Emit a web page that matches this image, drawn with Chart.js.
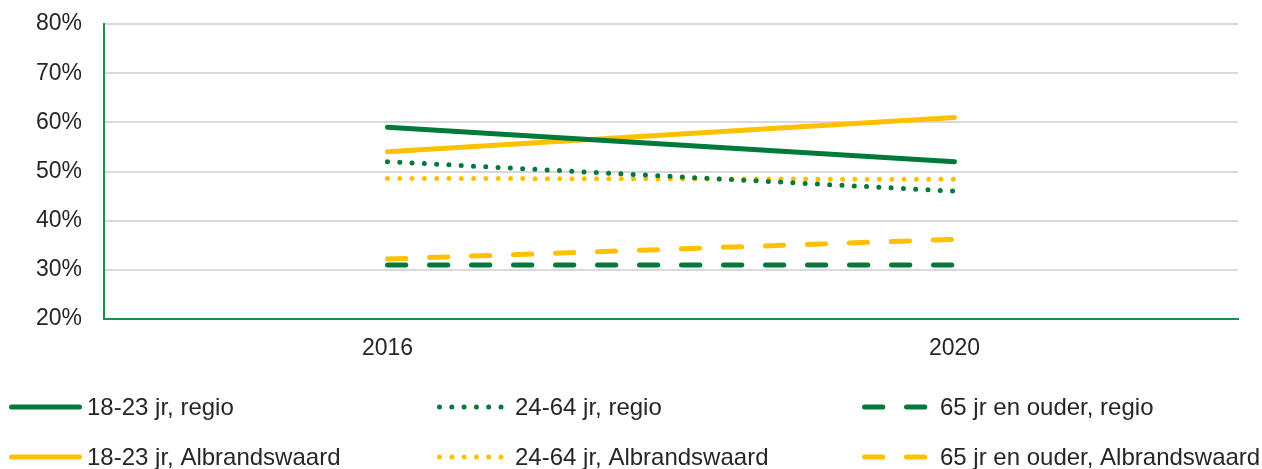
<!DOCTYPE html>
<html>
<head>
<meta charset="utf-8">
<script src="https://cdn.jsdelivr.net/npm/chart.js@4/dist/chart.umd.min.js"></script>
<style>
  html, body { margin: 0; padding: 0; background: #fff; }
  canvas { display: block; }
</style>
</head>
<body>
<canvas id="chart" width="1262" height="469"></canvas>
<script>
// data
const years = ['2016', '2020'];
const seriesNames = [
  '18-23 jr, regio',
  '18-23 jr, Albrandswaard',
  '24-64 jr, regio',
  '24-64 jr, Albrandswaard',
  '65 jr en ouder, regio',
  '65 jr en ouder, Albrandswaard'
];
const young_regio = [59, 52];
const young_albr = [54, 61];
const mid_regio = [52, 46];
const mid_albr = [48.6, 48.4];
const old_regio = [31, 31];
const old_albr = [32.2, 36.2];
const yTicks = [20, 30, 40, 50, 60, 70, 80];

const GREEN = '#00793A';
const YELLOW = '#FFC000';
const AXIS = '#1E8F45';
const TEXT = '#262626';
const FONT = '"Liberation Sans", Arial, sans-serif';

const SOLID = [];
const DOTS = [0, 12.3];
const DASH = [18.3, 23.7];

function line(label, data, color, dash){
  return {
    label: label, data: data,
    borderColor: color, backgroundColor: color,
    borderWidth: 5, borderDash: dash,
    borderCapStyle: 'round', borderJoinStyle: 'round',
    pointRadius: 0, pointHoverRadius: 0,
    tension: 0, fill: false
  };
}

// legend laid out in 3 columns x 2 rows under the plot
const legendGrid = {
  id: 'legendGrid',
  afterDraw(chart){
    const ctx = chart.ctx;
    const colX = [9, 437, 862];
    const rowY = [407, 457];
    chart.data.datasets.forEach((ds, i) => {
      const x = colX[Math.floor(i / 2)];
      const y = rowY[i % 2];
      ctx.save();
      ctx.strokeStyle = ds.borderColor;
      ctx.lineWidth = ds.borderWidth;
      ctx.lineCap = 'round';
      ctx.setLineDash(ds.borderDash || []);
      ctx.beginPath();
      ctx.moveTo(x + 2.5, y);
      ctx.lineTo(x + 70.5, y);
      ctx.stroke();
      ctx.setLineDash([]);
      ctx.fillStyle = TEXT;
      ctx.font = '24px ' + FONT;
      ctx.textBaseline = 'middle';
      ctx.textAlign = 'left';
      ctx.fillText(ds.label, x + 78, y + 1);
      ctx.restore();
    });
  }
};

new Chart(document.getElementById('chart'), {
  type: 'line',
  data: {
    labels: years,
    datasets: [
      line(seriesNames[0], young_regio, GREEN, SOLID),
      line(seriesNames[1], young_albr, YELLOW, SOLID),
      line(seriesNames[2], mid_regio, GREEN, DOTS),
      line(seriesNames[3], mid_albr, YELLOW, DOTS),
      line(seriesNames[4], old_regio, GREEN, DASH),
      line(seriesNames[5], old_albr, YELLOW, DASH)
    ]
  },
  options: {
    responsive: false,
    animation: false,
    devicePixelRatio: 1,
    layout: { padding: { top: 24, right: 24, bottom: 0, left: 0 } },
    plugins: {
      legend: { display: false },
      tooltip: { enabled: false }
    },
    scales: {
      x: {
        offset: true,
        grid: { display: false, drawTicks: false },
        border: { display: true, color: AXIS, width: 2 },
        ticks: { color: TEXT, font: { family: FONT, size: 23 }, padding: 16 },
        afterFit(scale){ scale.height = 150; }
      },
      y: {
        min: yTicks[0], max: yTicks[yTicks.length - 1],
        afterBuildTicks(scale){ scale.ticks = yTicks.map(v => ({ value: v })); },
        grid: { color: '#D9D9D9', lineWidth: 2, drawTicks: false },
        border: { display: true, color: AXIS, width: 2 },
        ticks: {
          color: TEXT, font: { family: FONT, size: 23 }, padding: 22,
          callback: v => v + '%'
        },
        afterFit(scale){
          scale.width = 104;
          scale.paddingTop = 0;
          scale.paddingBottom = 0;
        }
      }
    }
  },
  plugins: [legendGrid]
});
</script>
</body>
</html>
